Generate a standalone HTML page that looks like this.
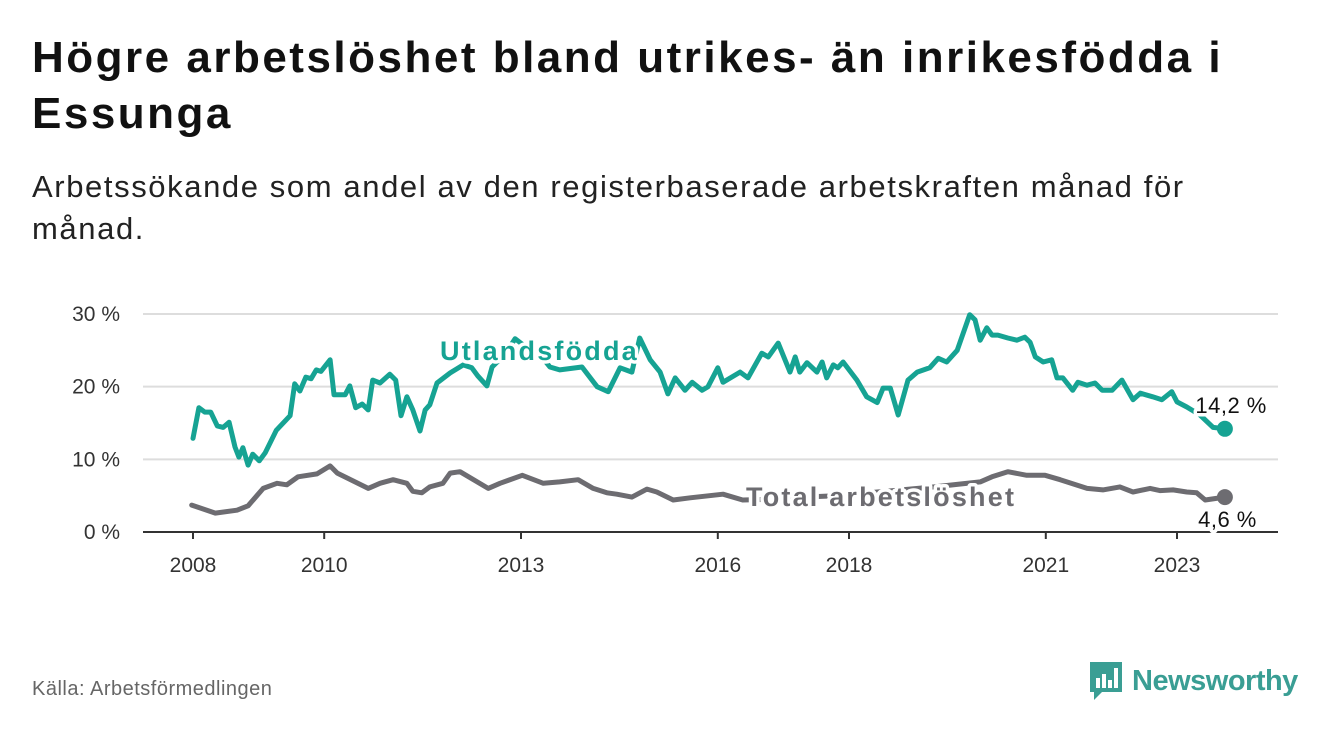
<!DOCTYPE html>
<html><head><meta charset="utf-8">
<style>
body{margin:0;background:#fff;width:1340px;height:734px;overflow:hidden;font-family:"Liberation Sans",sans-serif;}
h1{position:absolute;left:32px;top:30px;margin:0;font-size:44px;line-height:56px;font-weight:bold;color:#111;width:1260px;letter-spacing:2.5px;}
.sub{position:absolute;left:32px;top:166px;margin:0;font-size:31px;line-height:42px;color:#222;width:1210px;letter-spacing:1.6px;}
.src{position:absolute;left:32px;top:678px;font-size:20px;color:#666;letter-spacing:0.5px;}
.logo{position:absolute;left:1088px;top:660px;display:flex;align-items:center;}
</style></head><body>
<h1>Högre arbetslöshet bland utrikes- än inrikesfödda i Essunga</h1>
<p class="sub">Arbetssökande som andel av den registerbaserade arbetskraften månad för månad.</p>
<svg id="chart" width="1340" height="734" style="position:absolute;left:0;top:0"></svg>
<div class="src">Källa: Arbetsförmedlingen</div>
<div class="logo">
<svg width="36" height="42" viewBox="0 0 36 42"><path d="M2 2h32v30H14l-8 8v-8H2z" fill="#3a9e94"/><rect x="8" y="18" width="4" height="10" fill="#fff"/><rect x="14" y="14" width="4" height="14" fill="#fff"/><rect x="20" y="20" width="4" height="8" fill="#fff"/><rect x="26" y="8" width="4" height="20" fill="#fff"/></svg>
<span style="font-size:29px;font-weight:bold;color:#3a9e94;margin-left:8px;letter-spacing:-0.5px">Newsworthy</span>
</div>
<script>
const yTicks=[0,10,20,30];
const yTickLabels=["0 %","10 %","20 %","30 %"];
const xTicks=[2008,2010,2013,2016,2018,2021,2023];
const utlDates=[2008.00,2008.09,2008.18,2008.27,2008.37,2008.46,2008.55,2008.64,2008.70,2008.76,2008.84,2008.91,2009.01,2009.10,2009.27,2009.48,2009.55,2009.63,2009.72,2009.80,2009.88,2009.95,2010.09,2010.15,2010.32,2010.39,2010.48,2010.58,2010.67,2010.74,2010.85,2011.00,2011.09,2011.17,2011.26,2011.35,2011.46,2011.54,2011.61,2011.72,2011.92,2012.12,2012.25,2012.34,2012.48,2012.56,2012.76,2012.91,2013.14,2013.37,2013.44,2013.59,2013.93,2014.16,2014.33,2014.51,2014.69,2014.81,2014.97,2015.12,2015.24,2015.35,2015.50,2015.61,2015.76,2015.85,2016.00,2016.08,2016.34,2016.46,2016.67,2016.77,2016.92,2017.10,2017.18,2017.25,2017.36,2017.51,2017.59,2017.66,2017.76,2017.83,2017.91,2018.12,2018.27,2018.43,2018.52,2018.63,2018.75,2018.90,2019.04,2019.23,2019.36,2019.49,2019.65,2019.84,2019.92,2020.00,2020.10,2020.18,2020.27,2020.42,2020.56,2020.68,2020.76,2020.84,2020.96,2021.09,2021.17,2021.26,2021.41,2021.49,2021.63,2021.75,2021.86,2022.01,2022.16,2022.33,2022.44,2022.63,2022.77,2022.92,2023.00,2023.15,2023.35,2023.55,2023.73];
const utlValues=[12.9,17.1,16.5,16.5,14.6,14.4,15.1,11.7,10.3,11.6,9.2,10.7,9.8,10.9,14.0,16.0,20.4,19.4,21.3,21.1,22.3,22.1,23.7,18.9,18.9,20.1,17.1,17.6,16.8,20.9,20.5,21.7,20.9,16.0,18.6,16.8,13.9,16.8,17.5,20.5,21.9,23.0,22.6,21.5,20.1,22.7,24.5,26.6,25.0,23.5,22.7,22.3,22.7,20.0,19.3,22.6,22.0,26.7,23.7,22.0,19.0,21.2,19.5,20.6,19.5,20.0,22.6,20.6,22.0,21.2,24.6,24.1,26.0,22.0,24.1,22.0,23.3,22.0,23.4,21.2,23.0,22.6,23.4,20.9,18.6,17.8,19.8,19.8,16.1,20.9,22.0,22.6,23.9,23.4,25.0,29.9,29.2,26.4,28.1,27.1,27.1,26.7,26.4,26.8,26.1,24.1,23.4,23.7,21.2,21.2,19.5,20.6,20.2,20.5,19.5,19.5,20.9,18.2,19.1,18.6,18.2,19.3,17.9,17.2,16.1,14.4,14.2];
const totDates=[2007.98,2008.34,2008.67,2008.84,2009.07,2009.28,2009.43,2009.60,2009.89,2010.09,2010.20,2010.67,2010.85,2011.05,2011.26,2011.35,2011.49,2011.61,2011.81,2011.92,2012.07,2012.50,2012.68,2013.02,2013.34,2013.59,2013.87,2014.10,2014.31,2014.46,2014.69,2014.92,2015.07,2015.32,2015.58,2016.08,2016.38,2016.80,2017.30,2017.80,2018.30,2018.80,2019.30,2019.70,2020.00,2020.18,2020.42,2020.71,2020.99,2021.22,2021.63,2021.87,2022.13,2022.33,2022.59,2022.74,2022.94,2023.15,2023.30,2023.43,2023.73];
const totValues=[3.7,2.6,3.0,3.6,6.0,6.7,6.5,7.6,8.0,9.1,8.1,6.0,6.7,7.2,6.7,5.6,5.4,6.2,6.7,8.1,8.3,6.0,6.7,7.8,6.7,6.9,7.2,6.0,5.4,5.2,4.8,5.9,5.5,4.4,4.7,5.2,4.4,4.5,4.8,5.0,5.4,5.8,6.2,6.6,6.9,7.6,8.3,7.8,7.8,7.2,6.0,5.8,6.2,5.5,6.0,5.7,5.8,5.5,5.4,4.4,4.8];
const NS="http://www.w3.org/2000/svg";
const svg=document.getElementById('chart');
const X0=143,X1=1278;
const xs=d=>193+(d-2008)*65.6;
const ys=v=>532-v*7.267;
function mk(t,a,p){const e=document.createElementNS(NS,t);for(const k in a)e.setAttribute(k,a[k]);(p||svg).appendChild(e);return e;}
yTicks.forEach((v,i)=>{
  const g=mk('line',{x1:X0,x2:X1,y1:ys(v),y2:ys(v),stroke:v===0?'#333':'#ddd','stroke-width':2});
  
  
  const t=mk('text',{x:120,y:ys(v)+7,'text-anchor':'end','font-size':21,fill:'#333'});
  t.textContent=yTickLabels[i];
  
  
});
xTicks.forEach(yr=>{
  const l=mk('line',{x1:xs(yr),x2:xs(yr),y1:532,y2:539,stroke:'#333','stroke-width':2});
  
  
  const t=mk('text',{x:xs(yr),y:572,'text-anchor':'middle','font-size':21,fill:'#333'});
  t.textContent=yr;
  
  
});
function line(d,v,c,name){
  const n=Math.min(d.length,v.length)-1;
  let s='';
  for(let i=0;i<=n;i++)s+=(i?'L':'M')+xs(d[i]).toFixed(1)+','+ys(v[i]).toFixed(1);
  const p=mk('path',{d:s,fill:'none',stroke:c,'stroke-width':5,'stroke-linejoin':'round','stroke-linecap':'round'});
  
  
  const c2=mk('circle',{cx:xs(d[n]),cy:ys(v[n]),r:8,fill:c});
  
  
}
line(totDates,totValues,'#6d6c71','total-line');
line(utlDates,utlValues,'#16a393','utlandsfodda-line');
function label(x,y,txt,c,w,anchor,name,ls){
  const t=mk('text',{x:x,y:y,'font-size':w?27:22,'font-weight':w?'bold':'normal',fill:c,stroke:'#fff','stroke-width':7,'paint-order':'stroke','stroke-linejoin':'round','text-anchor':anchor||'start','letter-spacing':ls||0});
  t.textContent=txt;
  
  
}
label(440,360,'Utlandsfödda','#16a393',true,'start','utlandsfodda-label',2.2);
label(746,506,'Total arbetslöshet','#6d6c71',true,'start','total-label',2.2);
const nu=utlValues.length-1,nt=totValues.length-1;
label(xs(utlDates[nu])+42,ys(utlValues[nu])-16,'14,2 %','#111',false,'end','utlandsfodda-value-label',0.5);
label(xs(totDates[nt])+32,ys(totValues[nt])+30,'4,6 %','#111',false,'end','total-value-label',0.5);
</script>
</body></html>
